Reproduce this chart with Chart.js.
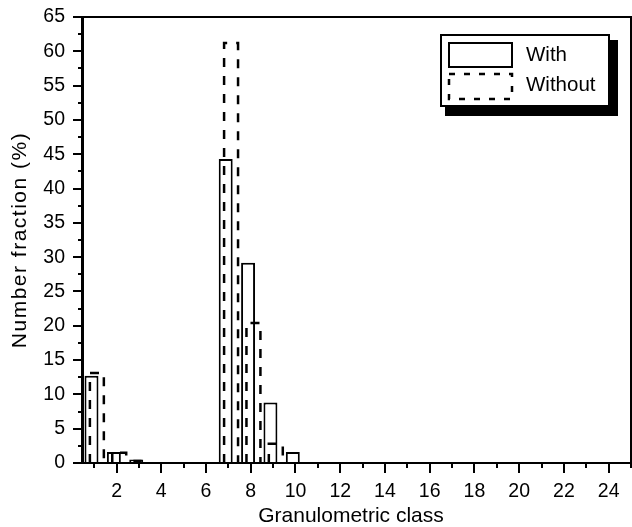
<!DOCTYPE html>
<html>
<head>
<meta charset="utf-8">
<script src="https://cdn.jsdelivr.net/npm/chart.js@4.4.1/dist/chart.umd.min.js"></script>
<style>
  html, body { margin: 0; padding: 0; background: #fff; }
  canvas { display: block; }
</style>
</head>
<body>
<canvas id="chart" width="632" height="527"></canvas>
<script>
// Granulometric classes and number fractions (%) for each series
const withClasses = [1, 2, 3, 7, 8, 9, 10];
const withValues = [12.7, 1.6, 0.5, 44.3, 29.2, 8.8, 1.6];
const withoutClasses = [1, 2, 3, 7, 8, 9];
const withoutValues = [13.1, 1.5, 0.3, 61.2, 20.4, 2.8];
const seriesNames = ['With', 'Without'];
const xTickLabels = [2, 4, 6, 8, 10, 12, 14, 16, 18, 20, 22, 24];
const xTitle = 'Granulometric class';
const yTitle = 'Number fraction (%)';

const X_MIN = 0.5, X_MAX = 25;
const Y_MIN = 0, Y_MAX = 65;

const INK = '#000';
const FONT = "'Liberation Sans', Arial, Helvetica, sans-serif";
Chart.defaults.font.family = FONT;
Chart.defaults.color = INK;

const toPoints = (xs, ys) => xs.map((x, i) => ({ x: x, y: ys[i] }));

// Frame, axis lines and major/minor tick marks
const framePlugin = {
  id: 'frame',
  afterDraw(chart) {
    const { ctx, chartArea: a, scales: { x, y } } = chart;
    ctx.save();
    ctx.strokeStyle = INK;
    ctx.lineCap = 'butt';
    ctx.lineWidth = 2;
    // y ticks every 2.5, long ones every 5
    for (let v = Y_MIN; v <= Y_MAX + 1e-9; v += 2.5) {
      const py = Math.round(y.getPixelForValue(v));
      const len = (Math.abs(v % 5) < 1e-9) ? 10 : 5;
      ctx.beginPath();
      ctx.moveTo(a.left - len, py);
      ctx.lineTo(a.left, py);
      ctx.stroke();
    }
    // x ticks every class, long ones on even classes
    for (let c = Math.ceil(X_MIN); c <= X_MAX; c++) {
      const px = Math.round(x.getPixelForValue(c));
      const len = (c % 2 === 0) ? 10 : 5;
      ctx.beginPath();
      ctx.moveTo(px, a.bottom);
      ctx.lineTo(px, a.bottom + len);
      ctx.stroke();
    }
    // frame
    ctx.beginPath();
    ctx.moveTo(a.left, a.top);
    ctx.lineTo(a.right, a.top);
    ctx.lineTo(a.right, a.bottom);
    ctx.lineTo(a.left, a.bottom);
    ctx.stroke();
    ctx.lineWidth = 3;
    ctx.beginPath();
    ctx.moveTo(a.left - 0.5, a.top - 1);
    ctx.lineTo(a.left - 0.5, a.bottom + 1);
    ctx.stroke();
    ctx.restore();
  }
};

// Axis titles: rotated, letter-spaced one for the value axis
const axisTitlesPlugin = {
  id: 'axisTitles',
  afterDraw(chart) {
    const { ctx, chartArea: a } = chart;
    ctx.save();
    ctx.fillStyle = INK;
    ctx.textAlign = 'center';
    ctx.textBaseline = 'middle';
    ctx.font = '21px ' + FONT;
    ctx.fillText(xTitle, (a.left + a.right) / 2 - 6, chart.height - 11);
    ctx.translate(20, (a.top + a.bottom) / 2);
    ctx.rotate(-Math.PI / 2);
    if ('letterSpacing' in ctx) ctx.letterSpacing = '1.5px';
    ctx.fillText(yTitle, 0, 0);
    ctx.restore();
  }
};

// Dashed outline bars for the second series
const dashedBarsPlugin = {
  id: 'dashedBars',
  afterDatasetsDraw(chart) {
    const { ctx, chartArea: a } = chart;
    const meta = chart.getDatasetMeta(1);
    ctx.save();
    ctx.beginPath();
    ctx.rect(a.left, a.top, a.right - a.left, a.bottom - a.top);
    ctx.clip();
    ctx.strokeStyle = INK;
    ctx.lineWidth = 2.5;
    ctx.setLineDash([9, 9]);
    meta.data.forEach(bar => {
      const l = bar.x - bar.width / 2;
      const r = bar.x + bar.width / 2;
      ctx.beginPath();
      ctx.moveTo(l, bar.base);
      ctx.lineTo(l, bar.y);
      ctx.lineTo(r, bar.y);
      ctx.lineTo(r, bar.base);
      ctx.stroke();
    });
    ctx.restore();
  }
};

// Boxed legend with drop shadow
const legendPlugin = {
  id: 'boxLegend',
  afterDraw(chart) {
    const { ctx } = chart;
    const L = 441, T = 35, W = 168, H = 71;
    ctx.save();
    ctx.fillStyle = '#000';
    ctx.fillRect(L + 4, T + 5, W + 5, H + 5);
    ctx.fillStyle = '#fff';
    ctx.fillRect(L, T, W, H);
    ctx.strokeStyle = INK;
    ctx.lineWidth = 2;
    ctx.strokeRect(L, T, W, H);
    // swatches
    ctx.strokeRect(L + 8, T + 8, 63, 24);
    ctx.setLineDash([6, 9]);
    ctx.lineWidth = 2.5;
    ctx.strokeRect(L + 8, T + 39, 63, 25);
    ctx.setLineDash([]);
    ctx.fillStyle = INK;
    ctx.font = '20.5px ' + FONT;
    ctx.textBaseline = 'middle';
    ctx.textAlign = 'left';
    const names = chart.data.datasets.map(d => d.label);
    ctx.fillText(names[0], L + 85, T + 20);
    ctx.fillText(names[1], L + 85, T + 50);
    ctx.restore();
  }
};

const noEdgePadding = s => {
  s.paddingLeft = 0; s.paddingRight = 0;
  s.paddingTop = 0; s.paddingBottom = 0;
};

new Chart(document.getElementById('chart'), {
  type: 'bar',
  data: {
    datasets: [
      {
        label: seriesNames[0],
        data: toPoints(withClasses, withValues),
        backgroundColor: '#fff',
        borderColor: INK,
        borderWidth: 2,
        borderSkipped: 'start'
      },
      {
        label: seriesNames[1],
        data: toPoints(withoutClasses, withoutValues),
        backgroundColor: 'rgba(0,0,0,0)',
        borderWidth: 0
      }
    ]
  },
  options: {
    responsive: false,
    animation: false,
    devicePixelRatio: 1,
    categoryPercentage: 0.48,
    barPercentage: 2.6,
    layout: { padding: { top: 17, right: 1, left: 0, bottom: 0 } },
    plugins: {
      legend: { display: false },
      tooltip: { enabled: false }
    },
    scales: {
      x: {
        type: 'linear',
        min: X_MIN,
        max: X_MAX,
        offset: false,
        border: { display: false },
        grid: { display: false, drawTicks: false, offset: false },
        afterBuildTicks: s => {
          // one tick per class, range kept at [X_MIN, X_MAX]
          const t = [];
          for (let c = Math.ceil(X_MIN); c <= X_MAX; c++) t.push({ value: c });
          s.ticks = t;
          s.min = X_MIN;
          s.max = X_MAX;
        },
        ticks: {
          autoSkip: false,
          maxRotation: 0,
          padding: 17,
          font: { size: 19.5 },
          callback: v => (xTickLabels.includes(v) ? String(v) : '')
        },
        title: { display: false, text: xTitle },
        afterFit: s => { s.height = 64; noEdgePadding(s); }
      },
      y: {
        min: Y_MIN,
        max: Y_MAX,
        border: { display: false },
        grid: { display: false, drawTicks: false },
        ticks: {
          stepSize: 5,
          maxTicksLimit: 20,
          padding: 18,
          font: { size: 19.5 }
        },
        title: { display: false, text: yTitle },
        afterFit: s => { s.width = 83; noEdgePadding(s); }
      }
    }
  },
  plugins: [framePlugin, dashedBarsPlugin, legendPlugin, axisTitlesPlugin]
});
</script>
</body>
</html>
